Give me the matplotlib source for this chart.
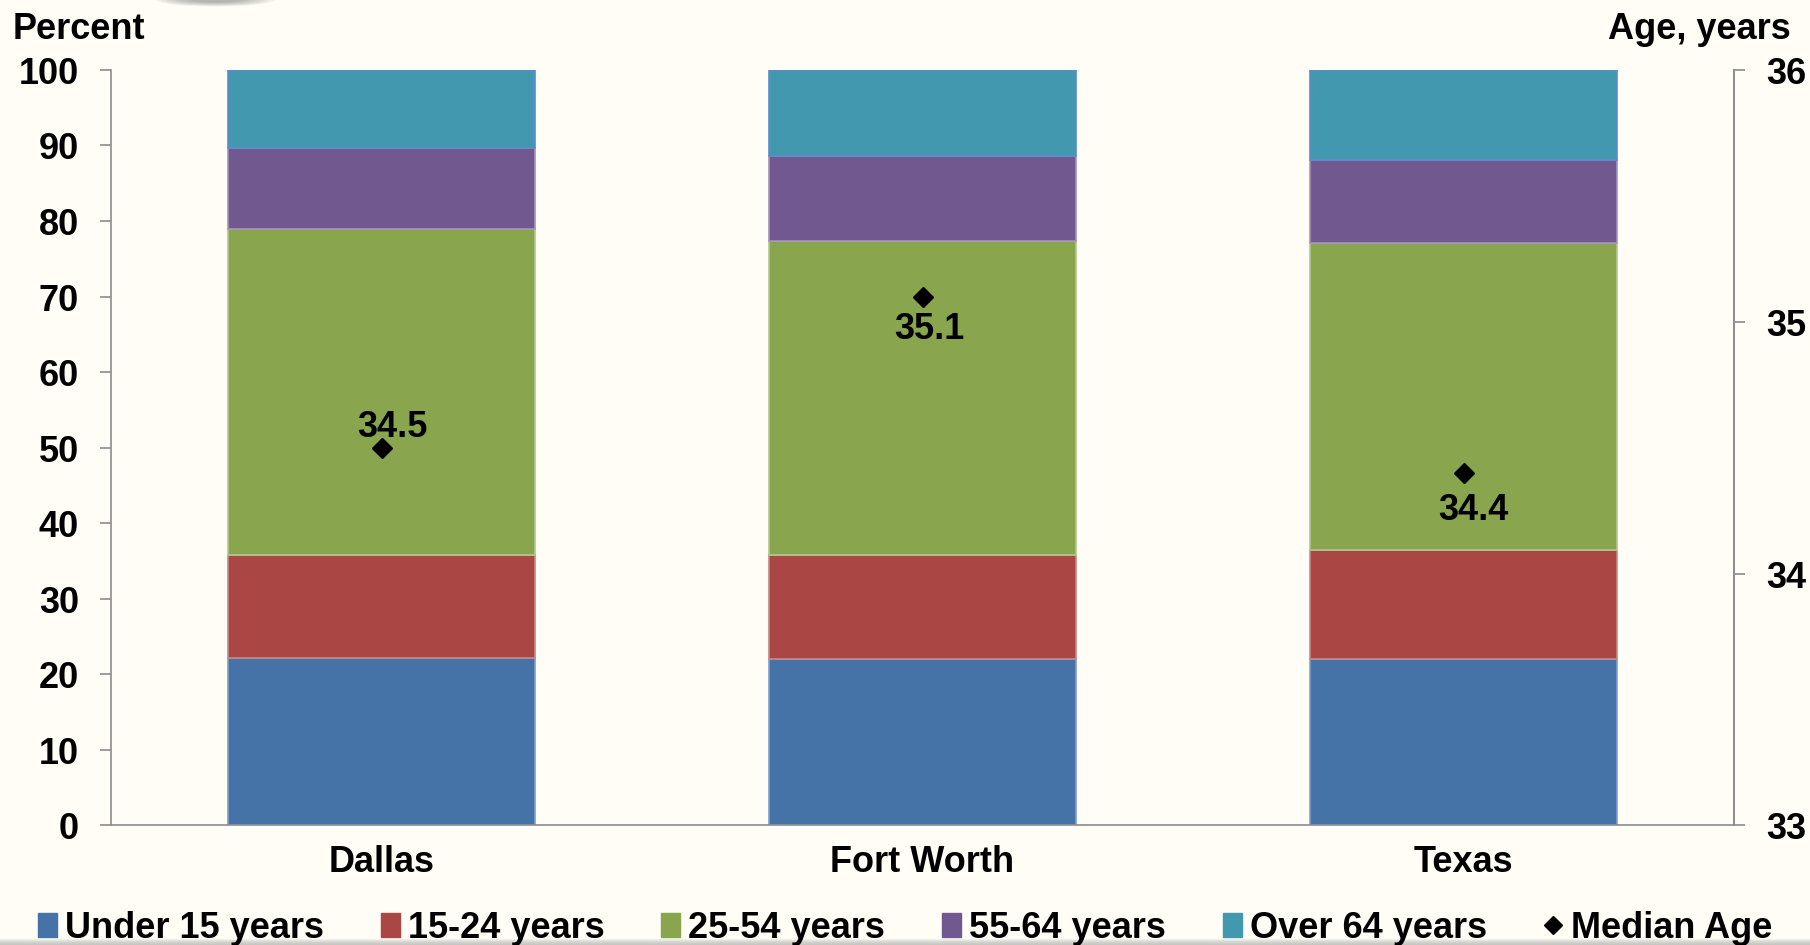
import matplotlib
matplotlib.use("Agg")
import matplotlib.pyplot as plt
from matplotlib.patches import Ellipse, Rectangle
from matplotlib.lines import Line2D
from matplotlib.patches import Patch

categories = ["Dallas", "Fort Worth", "Texas"]
series_names = ["Under 15 years", "15-24 years", "25-54 years", "55-64 years", "Over 64 years"]
under15 = [22.2, 22.0, 22.0]
age15_24 = [13.6, 13.8, 14.4]
age25_54 = [43.2, 41.5, 40.7]
age55_64 = [10.7, 11.3, 11.0]
over64 = [10.3, 11.4, 11.9]
median_age = [34.5, 35.1, 34.4]
label_offsets = [(7.5, 15), (5, -23), (7, -26.5)]

colors = ["#4573A7", "#AA4643", "#89A54E", "#71588F", "#4198AF"]
edges = ["#7F9FC8", "#C58A88", "#B3C68F", "#A493B8", "#5B8BD0"]
bg = "#FFFDF5"

plt.rcParams['font.family'] = ['Liberation Sans', 'DejaVu Sans']
plt.rcParams['font.weight'] = 'bold'

fig = plt.figure(figsize=(18.1, 9.455), dpi=100, facecolor=bg)
ax = fig.add_axes([111/1810, 1-825.4/945, (1734-111)/1810, (825.4-70.4)/945])
ax.set_facecolor(bg)

x = list(range(len(categories)))
bottom = [0.0]*len(categories)
handles = []
for vals, name, c, e in zip([under15, age15_24, age25_54, age55_64, over64], series_names, colors, edges):
    ax.bar(x, vals, width=0.568, bottom=bottom, color=c, edgecolor=e, linewidth=1.2, zorder=2)
    bottom = [b + v for b, v in zip(bottom, vals)]
    handles.append(Patch(facecolor=c, edgecolor=c, label=name))

ax.set_xlim(-0.5, 2.5)
ax.set_ylim(0, 100)
ax.set_yticks(range(0, 101, 10))
ax.set_xticks(x)
ax.set_xticklabels(categories)
ax.spines["top"].set_visible(False)
for s in ["left", "bottom", "right"]:
    ax.spines[s].set_color("#8C8C8C")
    ax.spines[s].set_linewidth(1.2)
ax.tick_params(axis='y', direction='out', length=8, width=1.2, color="#8C8C8C", labelsize=26, pad=15)
ax.tick_params(axis='x', length=0, labelsize=26, pad=14)

ax2 = ax.twinx()
ax2.set_ylim(33, 36)
ax2.set_yticks([33, 34, 35, 36])
for s in ["top", "left", "bottom"]:
    ax2.spines[s].set_visible(False)
ax2.spines["right"].set_color("#8C8C8C")
ax2.spines["right"].set_linewidth(1.2)
ax2.tick_params(axis='y', direction='out', length=8, width=1.2, color="#8C8C8C", labelsize=26, pad=15)
ax2.plot(x, median_age, linestyle='none', marker='D', markersize=10, color='black', zorder=5)
for xi, m, off in zip(x, median_age, label_offsets):
    ax2.annotate(f"{m}", (xi, m), xytext=off, textcoords='offset points',
                 ha='center', va='center', fontsize=26, fontweight='bold')

handles.append(Line2D([0], [0], marker='D', color='black', linestyle='none', markersize=9, label='Median Age'))
leg = fig.legend(handles=handles, loc='center', bbox_to_anchor=(0.5, 1-928/945), ncol=6,
                 frameon=False, fontsize=26, handlelength=0.53, handleheight=0.65,
                 handletextpad=0.22, columnspacing=1.57)

fig.text(13/1810, 1-29/945, "Percent", fontsize=26, fontweight='bold', ha='left', va='center')
fig.text(1791/1810, 1-29/945, "Age, years", fontsize=26, fontweight='bold', ha='right', va='center')

# decorative soft shadow at top
for i in range(8):
    w = (120 - i*10)/1810
    h = (14 - i*1.2)/945
    fig.patches.append(Ellipse((215/1810, 1.0), w, h, transform=fig.transFigure,
                               facecolor='#606060', alpha=0.07, edgecolor='none'))
# bottom shadow strip
for i in range(6):
    fig.patches.append(Rectangle((0, 0), 1, (6 - i)/945, transform=fig.transFigure,
                                 facecolor='#B0B0B0', edgecolor='none', alpha=0.18))

fig.savefig("out.png", dpi=100, facecolor=bg)
